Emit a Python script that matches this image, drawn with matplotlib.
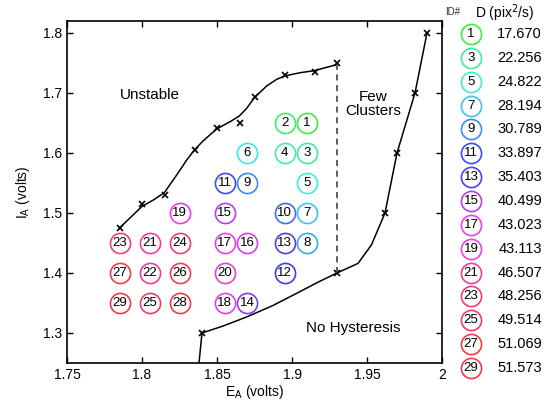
import numpy as np
import matplotlib
matplotlib.use("Agg")
import matplotlib.pyplot as plt
from matplotlib.colors import hsv_to_rgb

plt.rcParams['font.family'] = ['Liberation Sans', 'DejaVu Sans']

# ---- data ----
ids = list(range(1, 30))
ea = [1.91, 1.895, 1.91, 1.895, 1.91, 1.87, 1.91, 1.91, 1.87, 1.895,
      1.855, 1.895, 1.895, 1.87, 1.855, 1.87, 1.855, 1.855, 1.825, 1.855,
      1.805, 1.805, 1.785, 1.825, 1.805, 1.825, 1.785, 1.825, 1.785]
ia = [1.65, 1.65, 1.60, 1.60, 1.55, 1.60, 1.50, 1.45, 1.55, 1.50,
      1.55, 1.40, 1.45, 1.35, 1.50, 1.45, 1.45, 1.35, 1.50, 1.40,
      1.45, 1.40, 1.45, 1.45, 1.35, 1.40, 1.40, 1.35, 1.35]
# diffusion coefficients (odd IDs from legend, even IDs estimated from colour)
dcoef = [17.670, 20.0, 22.256, 23.5, 24.822, 26.5, 28.194, 29.5, 30.789, 32.3,
         33.897, 34.7, 35.403, 38.0, 40.499, 42.0, 43.023, 43.07, 43.113, 44.5,
         46.507, 47.4, 48.256, 48.9, 49.514, 50.3, 51.069, 51.3, 51.573]

# boundary of unstable region (markers and smooth trace)
up_mx = [1.785, 1.800, 1.815, 1.835, 1.850, 1.865, 1.875, 1.895, 1.915, 1.930]
up_my = [1.475, 1.515, 1.530, 1.605, 1.642, 1.650, 1.694, 1.730, 1.735, 1.750]
up_lx = [1.785, 1.800, 1.8076, 1.8149, 1.8231, 1.8298, 1.8349, 1.8409, 1.8498,
         1.8587, 1.8649, 1.8698, 1.8749, 1.8831, 1.8898, 1.8949, 1.9053,
         1.9149, 1.9289]
up_ly = [1.475, 1.511, 1.5217, 1.5339, 1.5633, 1.5883, 1.605, 1.6206, 1.640,
         1.6522, 1.6617, 1.6745, 1.6922, 1.7117, 1.7228, 1.7283, 1.7338,
         1.7372, 1.7467]

# no-hysteresis boundary
lo_mx = [1.840, 1.930, 1.962, 1.970, 1.982, 1.990]
lo_my = [1.300, 1.400, 1.500, 1.600, 1.700, 1.800]
lo_lx = [1.838, 1.840, 1.855, 1.870, 1.887, 1.903, 1.918, 1.930, 1.944, 1.953,
         1.962, 1.970, 1.982, 1.990]
lo_ly = [1.250, 1.300, 1.3125, 1.327, 1.3455, 1.366, 1.3855, 1.400, 1.416, 1.447,
         1.500, 1.600, 1.700, 1.800]

# few-clusters divider
div_x = [1.93, 1.93]
div_y = [1.40, 1.75]

dmin, dmax = min(dcoef), max(dcoef)


def col(d):
    f = (d - dmin) / (dmax - dmin)
    h = (1 / 3 + f * (2 / 3)) % 1.0
    return hsv_to_rgb([h, 0.74, 0.93])


W, H = 557, 409
fig = plt.figure(figsize=(W / 100, H / 100), dpi=100)
ax = fig.add_axes([67 / W, (H - 363) / H, 375 / W, 342 / H])

ax.plot(up_lx, up_ly, color='black', lw=1.1, solid_joinstyle='round')
ax.plot(up_mx, up_my, 'x', color='black', ms=4, mew=1.2)
ax.plot(lo_lx, lo_ly, color='black', lw=1.1, solid_joinstyle='round')
ax.plot(lo_mx, lo_my, 'x', color='black', ms=4, mew=1.2)
ax.plot(div_x, div_y, '--', color='#333333', lw=1.1, dashes=(4, 3))

for i, x, y, d in zip(ids, ea, ia, dcoef):
    ax.plot(x, y, 'o', ms=14.5, mfc='white', mec=col(d), mew=1.2, zorder=3)
    ax.text(x, y, str(i), ha='center', va='center', fontsize=9.5, zorder=4)

ax.text(1.805, 1.697, 'Unstable', ha='center', va='center', fontsize=11)
ax.text(1.954, 1.682, 'Few\nClusters', ha='center', va='center', fontsize=11,
        linespacing=0.95)
ax.text(1.941, 1.308, 'No Hysteresis', ha='center', va='center', fontsize=11)

ax.set_xlim(1.75, 2.0)
ax.set_ylim(1.25, 1.82)
ax.set_xticks([1.75, 1.8, 1.85, 1.9, 1.95, 2.0])
ax.set_xticklabels(['1.75', '1.8', '1.85', '1.9', '1.95', '2'])
ax.set_yticks([1.3, 1.4, 1.5, 1.6, 1.7, 1.8])
ax.tick_params(direction='in', top=True, right=True, labelsize=10, length=4,
               width=1)
for s in ax.spines.values():
    s.set_linewidth(1.2)
ax.set_xlabel('E$_\\mathregular{A}$ (volts)', fontsize=10, labelpad=1)
ax.set_ylabel('I$_\\mathregular{A}$ (volts)', fontsize=10, labelpad=8)

# legend panel
lax = fig.add_axes([0, 0, 1, 1], facecolor='none')
lax.set_xlim(0, W)
lax.set_ylim(H, 0)
lax.axis('off')
lax.text(453, 12, 'ID#', fontsize=7, ha='center', va='center', color='#333333')
lax.text(505, 13, 'D (pix$^2$/s)', fontsize=10, ha='center', va='center')
odd = [k for k in range(len(ids)) if ids[k] % 2 == 1]
for r, k in enumerate(odd):
    yy = 34 + r * 23.86
    lax.plot(471, yy, 'o', ms=14.5, mfc='white', mec=col(dcoef[k]), mew=1.2)
    lax.text(471, yy, str(ids[k]), ha='center', va='center', fontsize=9.5)
    lax.text(542, yy, f'{dcoef[k]:.3f}', ha='right', va='center', fontsize=10.5)

fig.savefig('out.png', dpi=100)
